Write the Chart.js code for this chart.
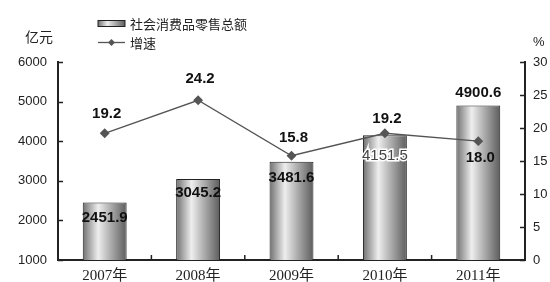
<!DOCTYPE html>
<html>
<head>
<meta charset="utf-8">
<script src="https://cdn.jsdelivr.net/npm/chart.js@4.4.0/dist/chart.umd.min.js"></script>
<style>
    body { margin: 0; background: #fff; }
    #wrap { width: 550px; height: 282px; }
</style>
</head>
<body>
<div id="wrap"><canvas id="salesChart" width="550" height="282"></canvas></div>
<script>
// data
const years = ['2007年', '2008年', '2009年', '2010年', '2011年'];
const salesValues = [2451.9, 3045.2, 3481.6, 4151.5, 4900.6]; // 亿元
const growthValues = [19.2, 24.2, 15.8, 19.2, 18.0];          // %
const leftTicks = [1000, 2000, 3000, 4000, 5000, 6000];
const rightTicks = [0, 5, 10, 15, 20, 25, 30];

const sansFont = '"Liberation Sans", Arial, sans-serif';
const cjkFont = '"Liberation Serif", "Noto Sans CJK SC", serif';

// cylinder-like shading for one bar
function barGradient(ctx, x0, x1) {
    const g = ctx.createLinearGradient(x0, 0, x1, 0);
    g.addColorStop(0, '#707070');
    g.addColorStop(0.35, '#eeeeee');
    g.addColorStop(0.55, '#c0c0c0');
    g.addColorStop(1, '#5c5c5c');
    return g;
}

const decorations = {
    id: 'decorations',
    afterDraw: (chart) => {
        const { ctx, chartArea: { left, right, top, bottom } } = chart;
        const yScale = chart.scales.y;
        const y1Scale = chart.scales.y1;
        const xScale = chart.scales.x;

        ctx.save();
        // inward tick marks
        ctx.strokeStyle = '#222';
        ctx.lineWidth = 1.5;
        ctx.beginPath();
        leftTicks.forEach(v => {
            const py = Math.round(yScale.getPixelForValue(v)) + 0.5;
            ctx.moveTo(left, py); ctx.lineTo(left + 5, py);
        });
        rightTicks.forEach(v => {
            const py = Math.round(y1Scale.getPixelForValue(v)) + 0.5;
            ctx.moveTo(right, py); ctx.lineTo(right - 5, py);
        });
        for (let i = 1; i < years.length; i++) {
            const px = (xScale.getPixelForValue(i - 1) + xScale.getPixelForValue(i)) / 2;
            ctx.moveTo(px, bottom); ctx.lineTo(px, bottom - 5);
        }
        ctx.stroke();

        // unit labels
        ctx.fillStyle = '#222';
        ctx.textBaseline = 'middle';
        ctx.textAlign = 'left';
        ctx.font = '14px "Noto Sans CJK SC", sans-serif';
        ctx.fillText('亿元', 25, 37);
        ctx.font = '13px ' + sansFont;
        ctx.fillText('%', 533, 42);

        // legend
        ctx.fillStyle = barGradient(ctx, 98, 125);
        ctx.fillRect(98, 20.5, 27, 6);
        ctx.strokeStyle = '#222';
        ctx.lineWidth = 1;
        ctx.strokeRect(98, 20.5, 27, 6);
        ctx.strokeStyle = '#555';
        ctx.lineWidth = 1.3;
        ctx.beginPath();
        ctx.moveTo(98, 42.5); ctx.lineTo(125, 42.5);
        ctx.stroke();
        ctx.fillStyle = '#555';
        ctx.beginPath();
        ctx.moveTo(111.5, 39); ctx.lineTo(115, 42.5); ctx.lineTo(111.5, 46); ctx.lineTo(108, 42.5);
        ctx.closePath();
        ctx.fill();
        ctx.fillStyle = '#222';
        ctx.font = '13px "Noto Sans CJK SC", sans-serif';
        ctx.fillText('社会消费品零售总额', 130, 24);
        ctx.fillText('增速', 130, 43);

        // value labels
        ctx.textAlign = 'center';
        const barMeta = chart.getDatasetMeta(0);
        const barOffsets = [15, 14, 16, 21, -13];
        barMeta.data.forEach((bar, i) => {
            const label = salesValues[i].toFixed(1);
            const ly = bar.y + barOffsets[i];
            if (i === 3) {
                ctx.font = '15px ' + sansFont;
                ctx.strokeStyle = '#fff';
                ctx.lineWidth = 3;
                ctx.strokeText(label, bar.x, ly);
                ctx.fillStyle = '#444';
                ctx.fillText(label, bar.x, ly);
            } else {
                ctx.font = 'bold 15px ' + sansFont;
                ctx.fillStyle = '#111';
                ctx.fillText(label, bar.x, ly);
            }
        });
        const lineMeta = chart.getDatasetMeta(1);
        const lineOffsets = [-19, -21, -18, -14, 17];
        ctx.font = 'bold 15px ' + sansFont;
        ctx.fillStyle = '#111';
        lineMeta.data.forEach((pt, i) => {
            ctx.fillText(growthValues[i].toFixed(1), pt.x + 2, pt.y + lineOffsets[i]);
        });
        ctx.restore();
    }
};

const chartCtx = document.getElementById('salesChart').getContext('2d');
new Chart(chartCtx, {
    data: {
        labels: years,
        datasets: [
            {
                type: 'bar',
                label: '社会消费品零售总额',
                data: salesValues,
                yAxisID: 'y',
                backgroundColor: function(context) {
                    const chart = context.chart;
                    const xs = chart.scales.x;
                    if (!xs || !chart.chartArea) return '#aaa';
                    const cx = xs.getPixelForValue(context.dataIndex);
                    const half = (xs.width / years.length) * 0.47 / 2;
                    return barGradient(chart.ctx, cx - half, cx + half);
                },
                borderColor: '#222',
                borderWidth: 1,
                borderSkipped: false,
                barPercentage: 0.47,
                categoryPercentage: 1.0,
                order: 2
            },
            {
                type: 'line',
                label: '增速',
                data: growthValues,
                yAxisID: 'y1',
                borderColor: '#555',
                borderWidth: 1.3,
                pointStyle: 'rectRot',
                pointRadius: 4,
                pointBackgroundColor: '#555',
                pointBorderColor: '#555',
                tension: 0,
                order: 1
            }
        ]
    },
    options: {
        responsive: false,
        animation: false,
        layout: {
            padding: { top: 62, left: 0, right: 0, bottom: 0 }
        },
        plugins: {
            legend: { display: false },
            tooltip: { enabled: false }
        },
        scales: {
            x: {
                grid: { display: false, drawTicks: false },
                border: { color: '#222', width: 2 },
                ticks: {
                    color: '#222',
                    padding: 7,
                    font: { family: cjkFont, size: 15 }
                },
                afterFit: (scale) => { scale.height = 22; }
            },
            y: {
                position: 'left',
                min: 1000,
                max: 6000,
                grid: { display: false, drawTicks: false },
                border: { color: '#222', width: 2 },
                ticks: {
                    stepSize: 1000,
                    color: '#222',
                    padding: 11,
                    font: { family: sansFont, size: 13 },
                    callback: (value) => String(value)
                },
                afterFit: (scale) => { scale.width = 58; }
            },
            y1: {
                position: 'right',
                min: 0,
                max: 30,
                grid: { display: false, drawTicks: false },
                border: { color: '#222', width: 2 },
                ticks: {
                    stepSize: 5,
                    color: '#222',
                    padding: 8,
                    font: { family: sansFont, size: 13 },
                    callback: (value) => String(value)
                },
                afterFit: (scale) => { scale.width = 25; }
            }
        }
    },
    plugins: [decorations]
});
</script>
</body>
</html>
